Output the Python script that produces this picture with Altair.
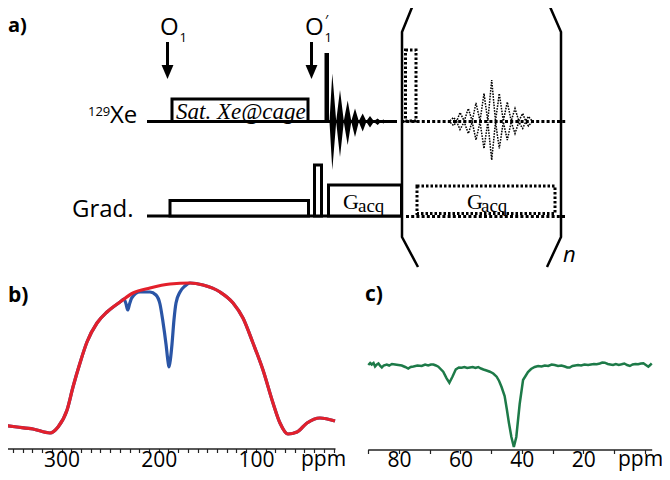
import altair as alt
import pandas as pd

W, H = 654, 464          # whole chart in pixels (autosize none, padding 0)
OX, OY = 8, 8            # page margin: reference pixel -> chart pixel

# ---------------- spectrum b (ppm, intensity) ----------------
b_red_ppm = [363.3, 345.8, 329.3, 311.8, 303.6, 294.3, 288.2, 281.0, 273.8, 263.5,
             253.2, 239.8, 226.4, 209.0, 188.4, 167.8, 154.4, 136.9, 123.5, 113.3,
             103.0, 92.7, 82.4, 75.2, 67.0, 57.7, 47.4, 34.1, 18.6]
b_red_int = [25, 23, 21, 17, 23, 40, 63, 87, 108, 127,
             138, 148, 157, 162, 166, 167, 165, 158, 147, 132,
             107, 80, 47, 27, 16, 18, 27, 32, 29]
b_blue_ppm = [363.3, 345.8, 329.3, 311.8, 303.6, 294.3, 288.2, 281.0, 273.8, 263.5,
              253.2, 239.8, 235.7, 233.6, 231.9, 230.0, 227.8, 219.2, 209.0, 202.8,
              198.7, 195.6, 192.5, 190.5, 189.4, 187.9, 186.3, 184.3, 182.2, 178.1,
              173.0, 167.8, 154.4, 136.9, 123.5, 113.3, 103.0, 92.7, 82.4, 75.2,
              67.0, 57.7, 47.4, 34.1, 18.6]
b_blue_int = [25, 23, 21, 17, 23, 40, 63, 87, 108, 127,
              138, 148, 151, 146, 140, 146, 152, 158, 158, 155,
              146, 128, 106, 89, 83, 91, 106, 130, 147, 158,
              164, 167, 165, 158, 147, 132, 107, 80, 47, 27,
              16, 18, 27, 32, 29]
b_ticks = list(range(20, 361, 10))

# ---------------- spectrum c (ppm, intensity) ----------------
c_ppm = [90.0, 89.4, 88.9, 88.3, 87.8, 87.2, 86.7, 86.1, 85.6, 85.0,
         84.0, 83.2, 82.3, 81.3, 80.2, 79.1, 78.0, 77.0, 76.2, 75.3,
         74.0, 72.6, 71.5, 70.5, 69.6, 68.8, 68.0, 67.2, 65.6, 64.5,
         63.6, 62.6, 61.5, 60.5, 59.6, 58.7, 57.8, 56.9, 56.0, 55.1,
         54.2, 53.3, 52.5, 51.5, 50.4, 49.3, 48.2, 47.4, 46.6, 45.6,
         44.9, 44.2, 43.4, 42.6, 41.8, 40.7, 39.6, 38.0, 37.0, 35.8,
         34.7, 33.6, 32.5, 31.4, 30.3, 29.3, 28.2, 27.1, 26.0, 25.2,
         24.4, 23.5, 22.6, 21.7, 20.7, 19.6, 18.4, 17.5, 16.5, 15.6,
         14.6, 13.8, 13.0, 12.0, 11.2, 10.3, 9.4, 8.4, 7.5, 6.6,
         5.7, 4.8, 3.9, 3.0, 2.1, 1.2, 0.4, -0.4, -1.2, -1.8, -2.3]
c_int = [86, 88, 86.5, 88, 84.5, 86.5, 87.5, 85, 83.5, 85.5,
         86.5, 85.5, 87, 86.5, 86, 85.5, 84, 82.5, 84, 84.5,
         85.5, 85, 86.5, 85.5, 86.5, 86.5, 85.5, 84.3, 79.3, 72.7,
         68.3, 74.3, 81.7, 83.5, 83.3, 84, 83, 83.5, 84, 83,
         84, 82.5, 81.5, 80.5, 79.3, 77.5, 74.3, 70, 64, 55,
         42, 28, 14, 4, 14, 47, 71, 79, 82, 84,
         85, 84.5, 85.5, 85, 86.5, 86, 85, 85.5, 84.5, 83.5,
         83.5, 85, 85.5, 86, 85.5, 86.5, 86, 86.5, 87, 86.7,
         87.5, 88.5, 88.3, 87, 86.5, 86, 87, 86, 86.7, 87.5,
         86, 85, 86.5, 87, 86.7, 87.5, 87.7, 86, 84.3, 86, 87.7]
c_ticks = list(range(0, 91, 10))

# ---------------- pulse-sequence diagram (reference pixels) ----------------
solid_x1 = [147, 147, 167.5, 311.5]
solid_x2 = [397, 402, 167.5, 311.5]
solid_y1 = [121.5, 216, 42, 42]
solid_y2 = [121.5, 216, 68, 68]

box_x1 = [172, 170, 314.5, 328.5]
box_x2 = [308, 308.5, 321.5, 401.5]
box_y1 = [99, 200.5, 165, 185]
box_y2 = [121.5, 216, 216, 216]

pulse_x = [324.5, 329]
pulse_y = [53, 121.5]

dot_x1 = [401, 406]
dot_x2 = [567, 567]
dot_y = [121.5, 216.5]

dbox_x1 = [405.5, 417]
dbox_x2 = [416, 555]
dbox_y1 = [50, 186]
dbox_y2 = [121, 213.5]

paren_x = [415, 402, 402, 418, 547, 561, 561, 547]
paren_y = [0, 32, 237, 267, 0, 32, 237, 267]
paren_g = ["L", "L", "L", "L", "R", "R", "R", "R"]

arrow_x = [167.5, 311.5]
arrow_y = [72, 72]

fid_x = [329.5, 332.3, 336.2, 340, 343.8, 347.7, 351.3, 355, 358.8, 362.7,
         366.3, 370, 373.8, 377.7, 380.6, 383.5, 386]
fid_top = [121, 73.5, 121, 90, 121, 100.5, 121, 108.5, 121, 113.5,
           121, 116, 121, 118.5, 121, 119.5, 121]
fid_bot = [122, 170, 122, 157, 122, 145, 122, 137, 122, 131.5,
           122, 127.5, 122, 125, 122, 123.5, 122]

echo_x = [450, 453.5, 456.8, 460, 464.2, 468.3, 472.2, 476, 480, 484,
          487.8, 491.7, 495.5, 499.3, 503.3, 507.3, 511.2, 515, 518.8, 522.7,
          525.6, 528.5, 532]
echo_top = [121, 117.5, 121, 112.5, 121, 108.5, 121, 103, 121, 93.5,
            121, 80, 121, 93.5, 121, 102, 121, 108.5, 121, 113.5,
            121, 116.5, 121]
echo_bot = [122, 125.5, 122, 129.5, 122, 133.5, 122, 140, 122, 148.5,
            122, 160, 122, 148.5, 122, 140, 122, 133.5, 122, 128.5,
            122, 126, 122]

# texts: (text, left x, baseline y, size)
sans_t = ["O", "1", "O", "1", "129", "Xe", "Grad.", "ppm", "ppm", "\u2032"]
sans_x = [160, 179.5, 305, 324.5, 88, 110, 72, 301, 618, 325]
sans_y = [35, 41.5, 35, 41.5, 115.5, 123, 217, 465.5, 465.5, 25]
sans_s = [24, 13, 24, 13, 13, 24, 24, 21, 21, 14]

bold_t = ["a)", "b)", "c)"]
bold_x = [8, 8, 365]
bold_y = [31.5, 301.5, 300.5]
bold_s = [20, 21, 21]

serif_t = ["G", "acq", "G", "acq"]
serif_x = [343, 358, 467, 481]
serif_y = [208.5, 211.5, 208.5, 211.5]
serif_s = [22, 19, 22, 19]

# ---------------------------------------------------------------------------
def PX(f="x"):
    return alt.X(f"{f}:Q", scale=alt.Scale(domain=[OX, OX + W], range=[0, W]), axis=None)


def PY(f="y"):
    return alt.Y(f"{f}:Q", scale=alt.Scale(domain=[OY, OY + H], range=[0, H]), axis=None)


layers = []

solid = pd.DataFrame({"x": solid_x1, "x2": solid_x2, "y": solid_y1, "y2": solid_y2})
layers.append(alt.Chart(solid).mark_rule(color="black", strokeWidth=3).encode(
    x=PX(), x2="x2:Q", y=PY(), y2="y2:Q"))

dots = pd.DataFrame({"x": dot_x1, "x2": dot_x2, "y": dot_y})
layers.append(alt.Chart(dots).mark_rule(color="black", strokeWidth=3, strokeDash=[3, 2.2]).encode(
    x=PX(), x2="x2:Q", y=PY()))

boxes = pd.DataFrame({"x": box_x1, "x2": box_x2, "y": box_y1, "y2": box_y2})
layers.append(alt.Chart(boxes).mark_rect(fill="white", stroke="black", strokeWidth=3).encode(
    x=PX(), x2="x2:Q", y=PY(), y2="y2:Q"))

pulse = pd.DataFrame({"x": [pulse_x[0]], "x2": [pulse_x[1]], "y": [pulse_y[0]], "y2": [pulse_y[1]]})
layers.append(alt.Chart(pulse).mark_rect(color="black").encode(
    x=PX(), x2="x2:Q", y=PY(), y2="y2:Q"))

dboxes = pd.DataFrame({"x": dbox_x1, "x2": dbox_x2, "y": dbox_y1, "y2": dbox_y2})
layers.append(alt.Chart(dboxes).mark_rect(fill="transparent", stroke="black", strokeWidth=3,
                                          strokeDash=[2.5, 2]).encode(
    x=PX(), x2="x2:Q", y=PY(), y2="y2:Q"))

parens = pd.DataFrame({"x": paren_x, "y": paren_y, "g": paren_g, "o": list(range(len(paren_x)))})
layers.append(alt.Chart(parens).mark_line(color="black", strokeWidth=2.5).encode(
    x=PX(), y=PY(), detail="g:N", order="o:Q"))

heads = pd.DataFrame({"x": arrow_x, "y": arrow_y})
layers.append(alt.Chart(heads).mark_point(shape="M-0.85,-1L0.85,-1L0,1Z", filled=True, size=196,
                                          color="black", opacity=1).encode(x=PX(), y=PY()))

fid = pd.DataFrame({"x": fid_x, "y": fid_top, "y2": fid_bot})
layers.append(alt.Chart(fid).mark_area(color="black").encode(x=PX(), y=PY(), y2="y2:Q"))

echo = pd.DataFrame({"x": echo_x, "y": echo_top, "y2": echo_bot})
layers.append(alt.Chart(echo).mark_area(fillOpacity=0, stroke="black", strokeWidth=1.5,
                                        strokeDash=[1.6, 1.2]).encode(x=PX(), y=PY(), y2="y2:Q"))


def texts(t, x, y, s, **kw):
    df = pd.DataFrame({"t": t, "x": x, "y": y, "s": s})
    return alt.Chart(df).mark_text(align="left", baseline="alphabetic", color="black", **kw).encode(
        x=PX(), y=PY(), text="t:N", size=alt.Size("s:Q", scale=None))


layers.append(texts(sans_t, sans_x, sans_y, sans_s, font="Open Sans"))
layers.append(texts(bold_t, bold_x, bold_y, bold_s, font="Open Sans", fontWeight="bold"))
layers.append(texts(serif_t, serif_x, serif_y, serif_s, font="Liberation Serif"))
layers.append(texts(["Sat. Xe@cage"], [176], [118.5], [23], font="Liberation Serif", fontStyle="italic"))
layers.append(texts(["n"], [563], [262], [22], font="Open Sans", fontStyle="italic"))

# ---------------- spectra ----------------
axis_common = dict(orient="bottom", title="", grid=False, domainColor="#222", domainWidth=1.5,
                   tickColor="#222", tickWidth=1.2, tickSize=4, labelFont="Open Sans",
                   labelFontSize=21, labelColor="black", labelBaseline="alphabetic",
                   labelOverlap=False, labelFlush=False)

b_axis_y = 448.5
c_axis_y = 449.5
label_base = 466

b_xscale = alt.Scale(domain=[18.6, 363.3], range=[335 - OX, 0 - OX], nice=False, zero=False)
b_yscale = alt.Scale(domain=[0, 170], range=[450 - OY, 280 - OY], nice=False, zero=False)
b_axis = alt.Axis(offset=(b_axis_y - OY) - H, values=b_ticks, labelPadding=label_base - b_axis_y - 4,
                  labelExpr="datum.value % 100 == 0 ? datum.label : ''", **axis_common)

blue = pd.DataFrame({"ppm": b_blue_ppm, "v": b_blue_int, "i": list(range(len(b_blue_ppm)))})
red = pd.DataFrame({"ppm": b_red_ppm, "v": b_red_int, "i": list(range(len(b_red_ppm)))})
layers.append(alt.Chart(blue).mark_line(color="#2a55a6", strokeWidth=3.2, interpolate="monotone").encode(
    x=alt.X("ppm:Q", scale=b_xscale, axis=None), y=alt.Y("v:Q", scale=b_yscale, axis=None), order="i:Q"))
layers.append(alt.Chart(red).mark_line(color="#e3202b", strokeWidth=3.2, interpolate="monotone").encode(
    x=alt.X("ppm:Q", scale=b_xscale, axis=b_axis), y=alt.Y("v:Q", scale=b_yscale, axis=None), order="i:Q"))

c_xscale = alt.Scale(domain=[-2.3, 90.2], range=[651.7 - OX, 367.7 - OX], nice=False, zero=False)
c_yscale = alt.Scale(domain=[0, 100], range=[451 - OY, 351 - OY], nice=False, zero=False)
c_axis = alt.Axis(offset=(c_axis_y - OY) - H, values=c_ticks, labelPadding=label_base - c_axis_y - 4,
                  labelExpr="datum.value % 20 == 0 && datum.value > 0 ? datum.label : ''", **axis_common)
green = pd.DataFrame({"ppm": c_ppm, "v": c_int, "i": list(range(len(c_ppm)))})
layers.append(alt.Chart(green).mark_line(color="#1d7a48", strokeWidth=2.5, interpolate="linear").encode(
    x=alt.X("ppm:Q", scale=c_xscale, axis=c_axis), y=alt.Y("v:Q", scale=c_yscale, axis=None), order="i:Q"))

chart = alt.layer(*layers).resolve_scale(x="independent", y="independent").properties(
    width=W, height=H, padding=0, autosize=alt.AutoSizeParams(type="none"), background="white"
).configure_view(strokeWidth=0)

chart.save("out.html", embed_options={"renderer": "svg", "actions": False})
